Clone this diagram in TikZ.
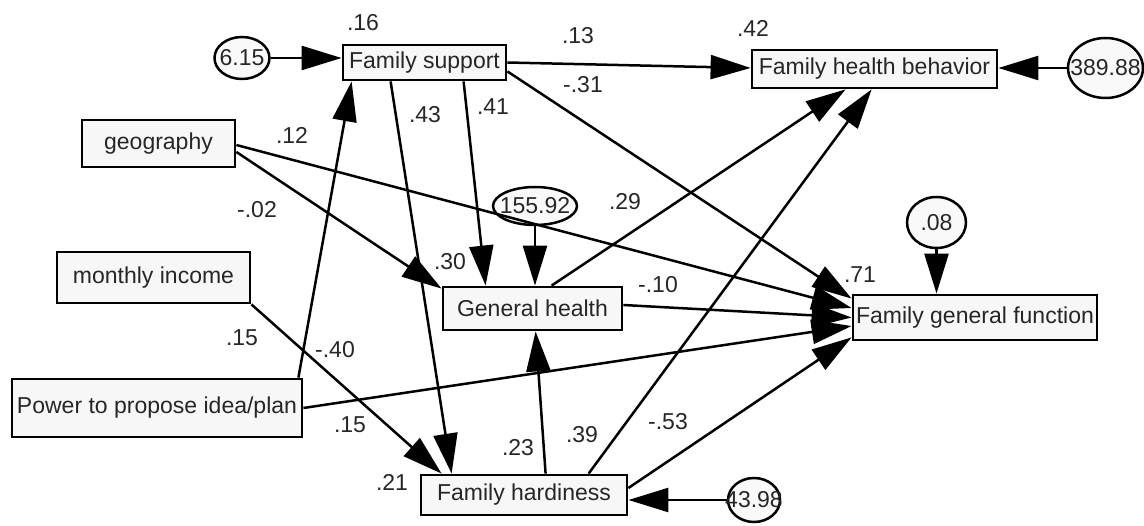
\documentclass[tikz,border=0pt]{standalone}
\usepackage{fontspec}
\setmainfont{Liberation Sans}
\usetikzlibrary{arrows.meta,calc,shapes.geometric}
\begin{document}
\begin{tikzpicture}[x=1pt,y=-1pt,
  font=\fontsize{23}{27}\selectfont,
  box/.style={draw, line width=2.8pt, fill=gray!6, inner sep=0pt, text=black!85},
  err/.style={draw, ellipse, line width=2.5pt, fill=gray!5, inner sep=0pt},
  pth/.style={line width=2.5pt, -{Triangle[length=40pt,width=24pt]}},
  lab/.style={inner sep=0pt, text=black!85}]
\useasboundingbox (0,0) rectangle (1144,526);

% observed variables
\node[box, minimum width=163pt, minimum height=35pt] (FS) at (424.5,62.5) {Family support};
\node[box, minimum width=245pt, minimum height=38pt] (FHB) at (874.5,69) {Family health behavior};
\node[box, minimum width=153pt, minimum height=47pt] (GEO) at (158.5,143.5) {geography};
\node[box, minimum width=193pt, minimum height=51pt] (INC) at (153.5,277.5) {monthly income};
\node[box, minimum width=290pt, minimum height=58pt] (POW) at (157,408) {Power to propose idea/plan};
\node[box, minimum width=179pt, minimum height=43pt] (GH) at (532.5,308.5) {General health};
\node[box, minimum width=244pt, minimum height=45pt] (FGF) at (975,317.5) {Family general function};
\node[box, minimum width=206pt, minimum height=40pt] (FH) at (524,495) {Family hardiness};

% error terms (shape, then its value on top)
\node[err, minimum width=55pt, minimum height=42pt] (E1) at (242,58) {};
\node[err, minimum width=75pt, minimum height=60pt] (E2) at (1105.5,68) {};
\node[err, minimum width=84pt, minimum height=38pt] (E3) at (535,206) {};
\node[err, minimum width=59pt, minimum height=51pt] (E4) at (936.5,222.5) {};
\node[err, minimum width=52pt, minimum height=44pt] (E5) at (754,500) {};
\node[lab] (t1) at (E1) {6.15};
\node[lab] (t2) at (E2) {389.88};
\node[lab] (t3) at (E3) {155.92};
\node[lab] (t4) at (E4) {.08};
\node[lab] (t5) at (E5) {43.98};

% paths
\draw[pth] (E1.east) -- (E1.east -| FS.west);
\draw[pth] (FS.east) -- ($(FHB.west)+(0,-1)$);
\draw[pth] ($(FS.south east)+(0,-10)$) -- ($(FGF.north west)+(0,5)$);
\draw[pth] ($(FS.south west)+(49,0)$) -- ($(FH.north west)+(32,0)$);
\draw[pth] ($(FS.south west)+(122,0)$) -- ($(GH.north west)+(44,0)$);
\draw[pth] ($(GEO.east)+(0,1.5)$) -- ($(FGF.west)+(0,-9.5)$);
\draw[pth] ($(GEO.east)+(0,8.5)$) -- ($(GH.north west)+(0,3)$);
\draw[pth] (INC.south east) -- ($(FH.north west)+(22,0)$);
\draw[pth] ($(POW.north east)+(-5,0)$) -- ($(FS.south west)+(10,0)$);
\draw[pth] (POW.east) -- ($(FGF.west)+(0,8.5)$);
\draw[pth] ($(GH.north west)+(110,0)$) -- ($(FHB.south west)+(95,0)$);
\draw[pth] ($(FH.north west)+(169,0)$) -- ($(FHB.south west)+(121,0)$);
\draw[pth] ($(GH.east)+(0,-3.5)$) -- (FGF.west);
\draw[pth] ($(FH.north west)+(126,0)$) -- ($(GH.south west)+(94,0)$);
\draw[pth] ($(FH.east)+(0,-7)$) -- ($(FGF.south west)+(0,-4)$);
\draw[pth] (E3.south) -- (E3.south |- GH.north);
\draw[pth] (E4.south) -- (E4.south |- FGF.north);
\draw[pth] (E5.west) -- (E5.west -| FH.east);
\draw[pth] (E2.west) -- (E2.west -| FHB.east);

% labels
\node[lab] (r1) at (363,23) {.16};
\node[lab] (r2) at (753,28) {.42};
\node[lab] (r3) at (450,262) {.30};
\node[lab] (r4) at (860,275) {.71};
\node[lab] (r5) at (392,482) {.21};
\node[lab] (c1) at (578,36) {.13};
\node[lab] (c2) at (583,85) {-.31};
\node[lab] (c3) at (425,115) {.43};
\node[lab] (c4) at (493,107) {.41};
\node[lab] (c5) at (292,135) {.12};
\node[lab] (c6) at (257,210) {-.02};
\node[lab] (c7) at (625,202) {.29};
\node[lab] (c8) at (658,285) {-.10};
\node[lab] (c9) at (242,338) {.15};
\node[lab] (c10) at (335,350) {-.40};
\node[lab] (c11) at (350,425) {.15};
\node[lab] (c12) at (518,448) {.23};
\node[lab] (c13) at (582,435) {.39};
\node[lab] (c14) at (668,422) {-.53};
\end{tikzpicture}
\end{document}
